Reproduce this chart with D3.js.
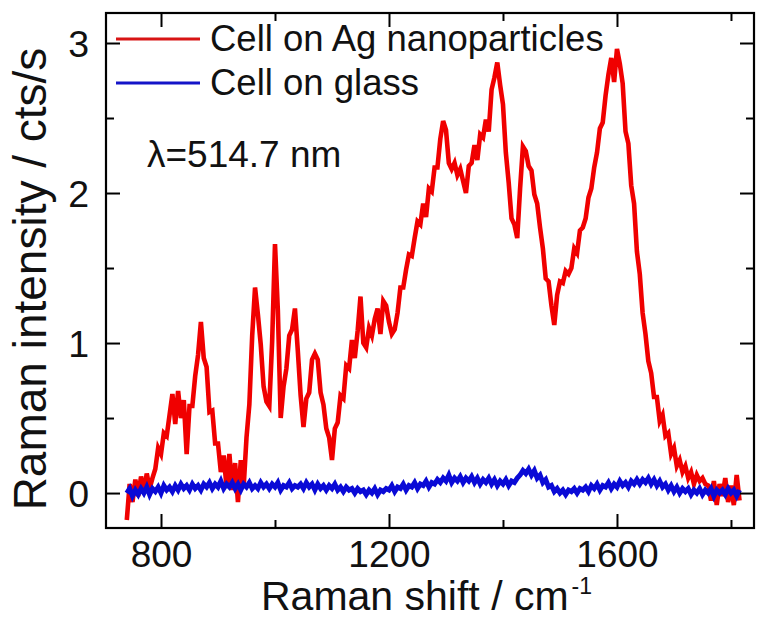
<!DOCTYPE html>
<html><head><meta charset="utf-8">
<script src="https://cdn.jsdelivr.net/npm/d3@7"></script>
<style>body{margin:0;background:#fff}svg{display:block;font-family:"Liberation Sans",Arial,sans-serif}</style>
</head><body><svg id="c" width="757" height="628"></svg>
<script>
// Raman shift sampling (cm^-1), 5 cm^-1 step
const shiftStart = 740, shiftStep = 5;
// Cell on Ag nanoparticles (cts/s)
const agValues = [
-0.18,0.06,-0.06,0.09,-0.02,0.11,0.01,0.13,0.03,0.10,
0.16,0.30,0.26,0.40,0.38,0.52,0.66,0.46,0.68,0.50,
0.62,0.26,0.58,0.58,0.78,0.92,1.14,0.90,0.84,0.54,
0.55,0.33,0.33,0.14,0.25,0.04,0.26,0.02,0.20,-0.06,
0.22,0.04,0.37,0.59,1.05,1.37,1.19,0.99,0.71,0.61,
0.58,1.01,1.66,1.22,0.50,0.71,0.83,1.05,1.09,1.23,
0.95,0.65,0.44,0.63,0.67,0.89,0.93,0.89,0.67,0.59,
0.43,0.37,0.22,0.43,0.47,0.65,0.63,0.85,0.83,1.02,
0.90,1.08,1.31,1.00,0.97,1.10,1.05,1.16,1.23,1.06,
1.28,1.25,1.14,1.06,1.09,1.20,1.37,1.37,1.49,1.59,
1.58,1.70,1.81,1.79,1.93,1.84,2.03,2.01,2.17,2.17,
2.36,2.48,2.42,2.20,2.16,2.20,2.12,2.16,2.08,2.00,
2.18,2.20,2.32,2.22,2.39,2.37,2.49,2.41,2.69,2.77,
2.87,2.72,2.59,2.27,2.07,1.83,1.79,1.70,2.03,2.31,
2.28,2.18,2.15,1.99,1.93,1.77,1.63,1.43,1.41,1.25,
1.12,1.32,1.41,1.40,1.48,1.46,1.50,1.63,1.60,1.75,
1.77,1.83,1.97,2.03,2.17,2.27,2.43,2.47,2.65,2.79,
2.90,2.74,2.96,2.86,2.73,2.41,2.33,2.05,1.93,1.61,
1.46,1.20,1.06,0.88,0.80,0.64,0.64,0.48,0.52,0.38,
0.40,0.26,0.30,0.18,0.22,0.14,0.18,0.10,0.14,0.06,
0.12,0.08,0.10,0.06,0.05,-0.05,0.08,-0.08,0.06,-0.02,
0.10,-0.06,0.05,-0.08,0.12,-0.05
];
// Cell on glass (cts/s)
const glassValues = [
0.00,0.03,-0.02,0.02,-0.01,0.03,0.00,0.04,-0.01,0.03,
0.01,0.04,0.00,0.05,0.02,0.04,0.01,0.05,0.02,0.06,
0.03,0.05,0.02,0.06,0.03,0.05,0.02,0.06,0.04,0.07,
0.03,0.06,0.04,0.08,0.03,0.06,0.04,0.07,0.03,0.06,
0.02,0.06,0.04,0.07,0.03,0.05,0.03,0.07,0.04,0.06,
0.03,0.06,0.04,0.07,0.02,0.05,0.04,0.07,0.03,0.05,
0.04,0.06,0.03,0.07,0.04,0.06,0.02,0.06,0.03,0.05,
0.02,0.05,0.03,0.06,0.02,0.04,0.01,0.04,0.02,0.03,
0.00,0.03,0.01,0.02,-0.01,0.02,0.00,0.03,-0.01,0.02,
0.01,0.03,0.02,0.05,0.01,0.04,0.03,0.06,0.02,0.05,
0.04,0.07,0.03,0.06,0.05,0.08,0.04,0.07,0.06,0.09,
0.07,0.10,0.08,0.12,0.07,0.10,0.08,0.11,0.07,0.10,
0.08,0.11,0.07,0.10,0.06,0.09,0.07,0.10,0.06,0.09,
0.05,0.08,0.06,0.09,0.05,0.08,0.07,0.10,0.12,0.15,
0.13,0.16,0.12,0.15,0.10,0.12,0.07,0.09,0.04,0.05,
0.01,0.03,0.00,0.02,-0.01,0.02,0.01,0.03,0.00,0.03,
0.02,0.04,0.01,0.05,0.03,0.06,0.02,0.05,0.04,0.07,
0.03,0.06,0.04,0.08,0.05,0.07,0.04,0.08,0.06,0.09,
0.06,0.09,0.07,0.10,0.06,0.09,0.05,0.08,0.04,0.06,
0.02,0.05,0.01,0.04,0.00,0.03,0.01,0.03,-0.01,0.02,
0.00,0.03,-0.01,0.02,0.00,0.03,-0.02,0.02,0.00,0.02,
-0.01,0.03,0.00,0.02,-0.02,0.02
];
const seriesNames = ["Cell on Ag nanoparticles", "Cell on glass"];
const seriesColors = ["#f00000", "#0a0ad6"];
const legendColors = ["#d81414", "#1414c8"];
const xMajorTicks = [800, 1200, 1600];
const xMinorTicks = [1000, 1400, 1800];
const yMajorTicks = [0, 1, 2, 3];
const yMinorTicks = [0.5, 1.5, 2.5];
const xDomain = [703.5, 1840.4];
const yDomain = [-0.233, 3.2];
const annotation = "λ=514.7 nm";
const xTitle = "Raman shift / cm";
const xTitleSup = "-1";
const yTitle = "Raman intensity / cts/s";

const svg = d3.select("#c");
const L = 106, R = 754, T = 13, B = 528;
const x = d3.scaleLinear().domain(xDomain).range([L, R]);
const y = d3.scaleLinear().domain(yDomain).range([B, T]);

const toPts = vals => vals.map((v, i) => [shiftStart + i * shiftStep, v]);
const line = d3.line().x(d => x(d[0])).y(d => y(d[1]));

svg.append("clipPath").attr("id", "clip").append("rect")
  .attr("x", L).attr("y", T).attr("width", R - L).attr("height", B - T);

const g = svg.append("g").attr("clip-path", "url(#clip)");
g.append("path").datum(toPts(agValues)).attr("d", line)
  .attr("fill", "none").attr("stroke", seriesColors[0]).attr("stroke-width", 4.6).attr("stroke-linejoin", "miter");
g.append("path").datum(toPts(glassValues)).attr("d", line)
  .attr("fill", "none").attr("stroke", seriesColors[1]).attr("stroke-width", 5).attr("stroke-linejoin", "miter");

// axes with inward ticks
function styleAxis(sel) {
  sel.select(".domain").remove();
  sel.selectAll("line").attr("stroke", "#000").attr("stroke-width", 2);
  sel.selectAll("text").attr("fill", "#111").style("font-family", "'Liberation Sans', Arial, sans-serif");
}
const fs = 37;
svg.append("g").attr("transform", `translate(0,${B})`)
  .call(d3.axisBottom(x).tickValues(xMajorTicks).tickSize(-14).tickFormat(d3.format("d")))
  .call(styleAxis).call(s => s.selectAll("text").style("font-size", fs + "px").attr("dy", "0.71em").attr("y", 13));
svg.append("g").attr("transform", `translate(0,${B})`)
  .call(d3.axisBottom(x).tickValues(xMinorTicks).tickSize(-8).tickFormat(""))
  .call(styleAxis);
svg.append("g").attr("transform", `translate(0,${T})`)
  .call(d3.axisTop(x).tickValues(xMajorTicks).tickSize(-14).tickFormat("")).call(styleAxis);
svg.append("g").attr("transform", `translate(0,${T})`)
  .call(d3.axisTop(x).tickValues(xMinorTicks).tickSize(-8).tickFormat("")).call(styleAxis);

svg.append("g").attr("transform", `translate(${L},0)`)
  .call(d3.axisLeft(y).tickValues(yMajorTicks).tickSize(-14).tickFormat(d3.format("d")))
  .call(styleAxis).call(s => s.selectAll("text").style("font-size", "37.5px").attr("x", -17).attr("dy", "0.36em"));
svg.append("g").attr("transform", `translate(${L},0)`)
  .call(d3.axisLeft(y).tickValues(yMinorTicks).tickSize(-8).tickFormat("")).call(styleAxis);
svg.append("g").attr("transform", `translate(${R},0)`)
  .call(d3.axisRight(y).tickValues(yMajorTicks).tickSize(-14).tickFormat("")).call(styleAxis);
svg.append("g").attr("transform", `translate(${R},0)`)
  .call(d3.axisRight(y).tickValues(yMinorTicks).tickSize(-8).tickFormat("")).call(styleAxis);

// frame
svg.append("rect").attr("x", L).attr("y", T).attr("width", R - L).attr("height", B - T)
  .attr("fill", "none").attr("stroke", "#000").attr("stroke-width", 2.2);

// legend
const legY = [39, 83];
seriesNames.forEach((n, i) => {
  svg.append("line").attr("x1", 116).attr("x2", 200).attr("y1", legY[i]).attr("y2", legY[i])
    .attr("stroke", legendColors[i]).attr("stroke-width", 3.2);
  svg.append("text").attr("x", 210).attr("y", legY[i] + 12).text(n)
    .style("font-size", "36.5px").attr("fill", "#111");
});

svg.append("text").attr("x", 147).attr("y", 167).text(annotation)
  .style("font-size", "37px").attr("fill", "#111");

// axis titles
const xt = svg.append("text").attr("x", 261).attr("y", 610).style("font-size", "41px").attr("fill", "#111");
xt.append("tspan").text(xTitle);
xt.append("tspan").text(xTitleSup).style("font-size", "23px").attr("dx", 3).attr("dy", -16);

svg.append("text").attr("transform", "translate(46,279) rotate(-90)")
  .attr("text-anchor", "middle").text(yTitle).style("font-size", "46px").attr("fill", "#111");
</script></body></html>
